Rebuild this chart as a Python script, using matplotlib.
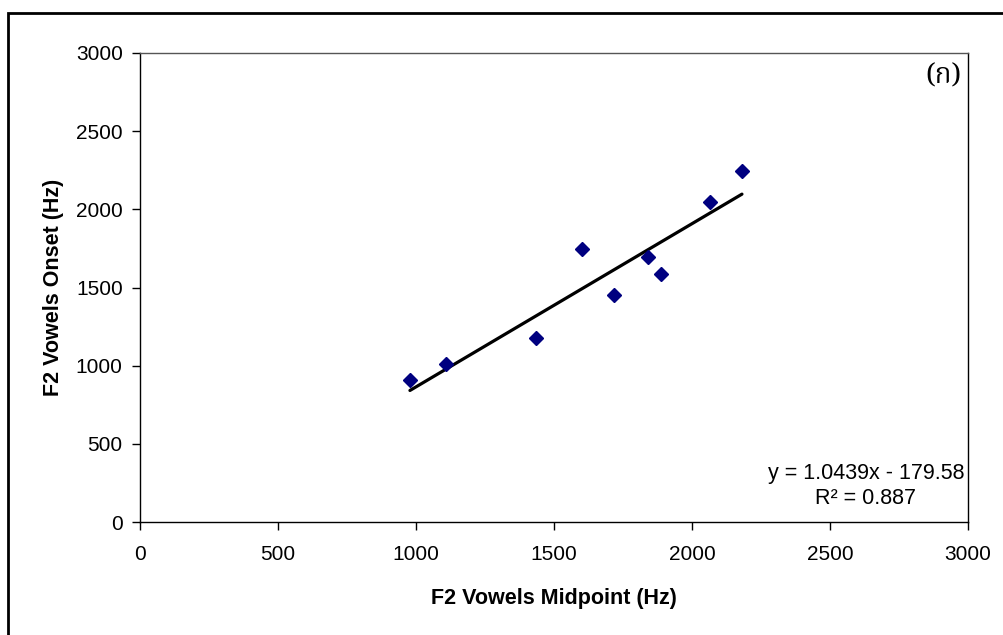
import matplotlib
matplotlib.use("Agg")
import matplotlib.pyplot as plt
import numpy as np
from matplotlib.patches import Rectangle

# F2 formant measurements (Hz)
f2_midpoint = [978, 1109, 1435, 1601, 1717, 1841, 1887, 2065, 2181]
f2_onset = [908, 1011, 1177, 1748, 1452, 1695, 1587, 2047, 2246]

# linear trend line coefficients
slope = 1.0439
intercept = -179.58
r_squared = 0.887

x_ticks = [0, 500, 1000, 1500, 2000, 2500, 3000]
y_ticks = [0, 500, 1000, 1500, 2000, 2500, 3000]

plt.rcParams['font.family'] = ['Liberation Sans', 'DejaVu Sans']

fig = plt.figure(figsize=(10.04, 6.35), dpi=100)
fig.patch.set_facecolor('white')

# outer chart frame
frame = Rectangle((8 / 1004, -0.05), 1.2, 1 - 13 / 635 + 0.05,
                  transform=fig.transFigure, fill=False,
                  edgecolor='black', linewidth=2.0)
fig.add_artist(frame)

ax = fig.add_axes([140 / 1004, 1 - 522 / 635, 828 / 1004, 469 / 635])

xs = np.array([min(f2_midpoint), max(f2_midpoint)])
ax.plot(xs, slope * xs + intercept, color='black', linewidth=2.3,
        solid_capstyle='round', zorder=2)
ax.plot(f2_midpoint, f2_onset, linestyle='none', marker='D',
        markersize=7, color='#000080', markeredgecolor='#000080', zorder=3)

ax.set_xlim(0, 3000)
ax.set_ylim(0, 3000)
ax.set_xticks(x_ticks)
ax.set_yticks(y_ticks)
ax.tick_params(axis='both', direction='out', length=5.5, width=1,
               labelsize=15, colors='black')
ax.tick_params(axis='y', pad=7)
ax.tick_params(axis='x', pad=11)

for side in ['left', 'bottom', 'top', 'right']:
    ax.spines[side].set_linewidth(1.0)
    ax.spines[side].set_color('black')
ax.spines['top'].set_color('#555555')

ax.set_xlabel('F2 Vowels Midpoint (Hz)', fontsize=15.5, fontweight='bold',
              labelpad=17)
ax.set_ylabel('F2 Vowels Onset (Hz)', fontsize=15.5, fontweight='bold',
              labelpad=8.5)

ax.text(2630, 230, f'y = {slope}x - {abs(intercept)}\nR\u00b2 = {r_squared}',
        ha='center', va='center', fontsize=15.5, linespacing=1.3)

ax.text(2975, 2847, '(\u0e01)', ha='right', va='center', fontsize=20,
        family=['Noto Serif Thai', 'Noto Sans Thai', 'Loma', 'Garuda',
                'Norasi', 'DejaVu Serif', 'DejaVu Sans'])

fig.savefig('out.png', dpi=100, facecolor='white')
